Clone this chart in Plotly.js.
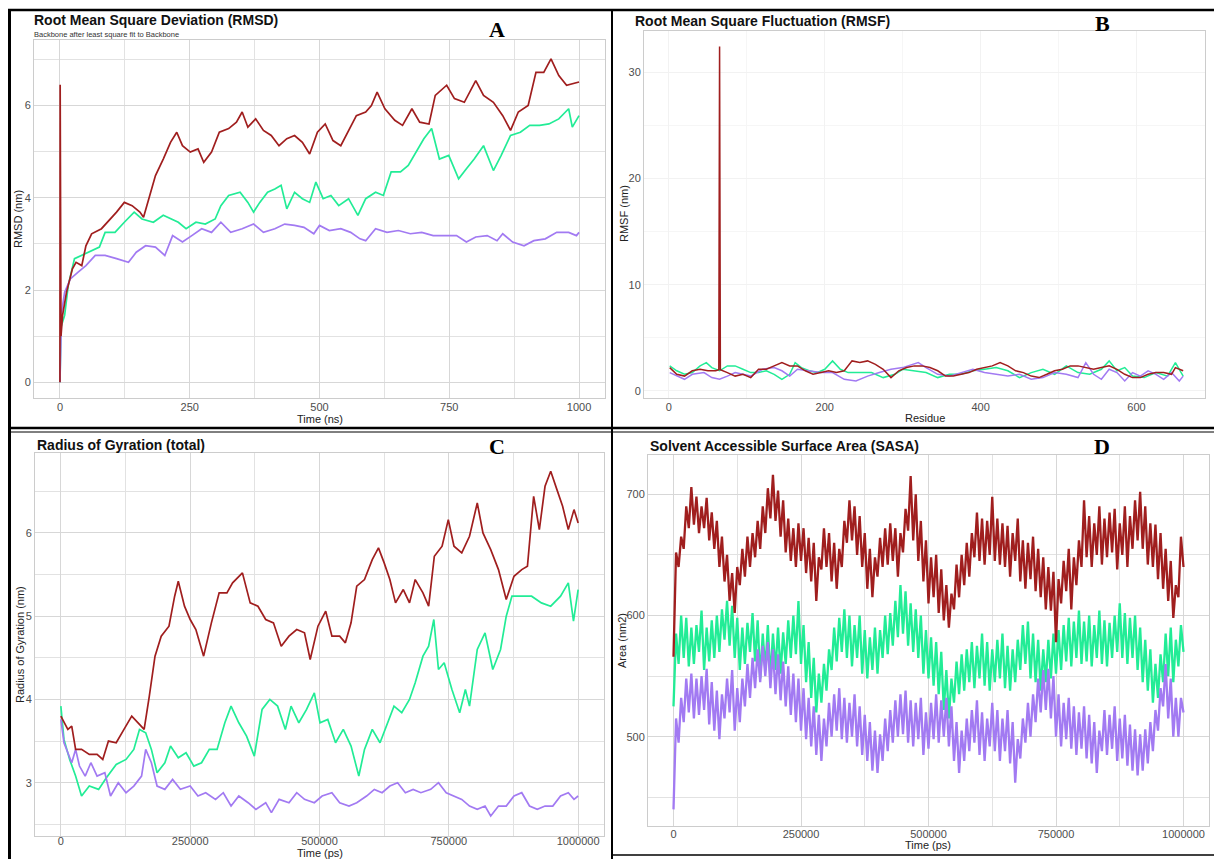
<!DOCTYPE html>
<html>
<head>
<meta charset="utf-8">
<script src="https://cdn.plot.ly/plotly-3.0.1.min.js"></script>
<style>html,body{margin:0;padding:0;background:#fff;}#chart{width:1214px;height:859px;}</style>
</head>
<body>
<div id="chart"></div>
<script>
// ---------------- DATA ----------------
// Panel A: RMSD (nm) vs time (ns)
const rmsdRedT = [0,0.4,2,5,12.6,24,31,42,50,61,80,98,109,124,139,154,161,173,184,199,213,225,236,251,266,277,292,307,325,340,351,362,377,392,407,422,437,452,467,481,496,511,526,541,556,571,589,600,611,626,645,660,678,693,711,723,745,760,779,801,816,835,853,868,883,902,917,932,946,961,976,1000];
const rmsdRed = [0,6.45,1.0,1.45,1.95,2.46,2.6,2.53,2.96,3.22,3.33,3.54,3.69,3.9,3.83,3.69,3.58,4.05,4.48,4.84,5.2,5.42,5.13,4.99,5.06,4.77,4.99,5.42,5.5,5.64,5.86,5.53,5.71,5.46,5.35,5.13,5.28,5.35,5.2,4.95,5.42,5.6,5.24,5.13,5.46,5.78,5.86,6.0,6.29,5.93,5.68,5.57,5.93,5.64,5.6,6.22,6.44,6.15,6.07,6.54,6.22,6.07,5.78,5.46,5.86,6.0,6.72,6.72,7.01,6.65,6.44,6.51];
const rmsdGreenT = [0,2,9,16,28,42,57,76,87,106,124,143,158,180,199,213,228,243,262,280,299,310,325,347,362,373,385,400,414,426,437,452,467,481,493,507,522,537,556,574,589,608,623,638,656,671,686,701,716,731,749,768,783,798,816,835,850,868,887,905,924,942,961,980,987,1000];
const rmsdGreen = [0,1.2,1.45,2.1,2.68,2.75,2.82,2.93,3.25,3.25,3.47,3.69,3.54,3.47,3.62,3.54,3.47,3.33,3.47,3.43,3.54,3.83,4.05,4.12,3.9,3.69,3.9,4.12,4.19,4.27,3.76,4.12,3.98,3.9,4.34,3.98,4.05,3.83,3.98,3.62,3.98,4.12,4.05,4.56,4.56,4.7,4.99,5.28,5.5,4.84,4.92,4.41,4.63,4.84,5.13,4.59,4.92,5.35,5.42,5.57,5.57,5.6,5.71,5.93,5.53,5.78];
const rmsdPurpleT = [0,3,9,20,35,50,68,87,109,132,147,165,184,202,217,236,254,273,292,310,329,351,373,392,414,433,452,470,489,500,519,541,560,578,589,608,630,652,675,697,719,742,764,783,801,823,842,853,872,894,913,935,957,980,995,1000];
const rmsdPurple = [0,1.5,1.95,2.24,2.39,2.53,2.75,2.75,2.68,2.6,2.82,2.96,2.93,2.75,3.18,3.04,3.18,3.33,3.25,3.47,3.25,3.33,3.43,3.25,3.33,3.43,3.4,3.36,3.22,3.4,3.29,3.33,3.25,3.11,3.07,3.33,3.25,3.29,3.22,3.25,3.18,3.18,3.18,3.04,3.15,3.18,3.07,3.22,3.04,2.96,3.07,3.11,3.25,3.25,3.18,3.25];

// Panel B: RMSF (nm) vs residue
const rmsfRedRes = [1,10,20,30,40,50,60,64,65,66,75,85,95,105,115,125,135,145,155,165,175,185,195,205,215,225,235,245,255,265,275,285,295,305,315,325,335,345,355,365,375,385,395,405,415,425,435,445,455,465,475,485,495,505,515,525,535,545,555,565,575,585,595,605,615,625,635,645,650,660];
const rmsfRed = [2.2,1.57,1.4,1.9,2.04,1.9,1.9,2.0,32.4,2.0,1.73,1.4,1.57,1.26,2.04,2.04,2.36,2.67,2.36,2.36,1.9,1.57,1.73,1.9,1.73,1.9,2.83,2.67,2.83,2.51,2.04,1.26,1.9,2.2,2.36,2.36,2.2,1.9,1.4,1.4,1.57,1.73,2.04,2.2,2.36,2.67,2.36,1.9,1.73,1.4,1.26,1.57,1.9,2.04,2.36,2.36,2.2,2.04,2.2,2.36,2.04,1.57,1.26,1.26,1.57,1.73,1.73,1.57,2.2,1.9];
const rmsfGreenRes = [1,10,20,30,40,48,55,65,75,85,95,105,115,125,135,145,155,162,170,180,190,200,210,220,230,245,260,275,290,300,315,330,345,360,375,390,405,420,435,450,465,480,495,510,525,540,555,565,575,585,595,610,625,640,650,655,660];
const rmsfGreen = [2.36,1.9,1.57,1.73,2.36,2.67,2.2,1.9,2.36,2.36,2.04,1.73,1.73,1.9,1.57,1.1,1.57,2.67,2.2,1.9,1.73,2.04,2.83,2.04,1.73,1.73,1.73,1.26,1.57,2.04,1.9,1.73,1.26,1.57,1.57,1.9,2.04,2.2,1.9,1.26,1.73,2.04,1.57,2.36,1.73,1.57,2.04,2.83,1.9,2.2,1.4,1.26,1.73,1.4,2.67,2.04,1.4];
const rmsfPurpleRes = [1,10,20,30,45,55,65,75,85,95,105,120,135,145,155,165,180,195,210,225,240,255,270,285,300,315,320,330,345,360,375,390,405,420,435,450,465,480,495,510,525,535,545,555,565,575,585,595,605,615,625,635,645,655,660];
const rmsfPurple = [1.73,1.4,1.1,1.57,1.73,1.26,1.1,1.4,1.73,1.57,1.4,2.04,2.2,1.9,1.4,2.04,1.9,1.73,1.73,1.1,0.94,1.4,1.73,2.04,2.2,2.51,2.67,2.2,1.57,1.4,1.73,2.04,1.73,1.57,1.4,1.57,1.1,1.26,1.73,1.57,1.26,2.67,1.57,1.1,2.04,1.73,0.94,1.73,1.4,1.9,1.57,1.1,1.73,0.94,1.4];

// Panel C: Radius of gyration (nm) vs time (ps)
const rgRedT = [0,6000,13500,21000,28500,40000,55000,70000,81000,92000,107000,122000,137000,152000,161000,171000,182000,194000,209000,220000,227000,239000,250000,261000,276000,291000,306000,321000,332000,351000,366000,381000,396000,411000,426000,441000,456000,471000,482000,497000,512000,524000,539000,550000,561000,572000,587000,602000,614000,625000,636000,647000,662000,674000,685000,700000,711000,722000,737000,749000,760000,775000,790000,805000,816000,831000,846000,861000,876000,891000,902000,914000,925000,936000,947000,959000,970000,981000,992000,1000000];
const rgRed = [3.8,3.72,3.64,3.68,3.4,3.4,3.34,3.34,3.28,3.5,3.48,3.64,3.8,3.7,3.64,4.04,4.52,4.76,4.88,5.24,5.42,5.12,4.96,4.84,4.52,4.92,5.28,5.28,5.4,5.52,5.16,5.12,4.96,4.92,4.64,4.76,4.84,4.8,4.48,4.88,5.06,4.76,4.76,4.68,4.92,5.36,5.44,5.68,5.82,5.64,5.44,5.16,5.32,5.16,5.44,5.28,5.12,5.72,5.84,6.16,5.84,5.76,5.96,6.36,6.0,5.8,5.56,5.2,5.48,5.56,5.6,6.44,6.04,6.56,6.74,6.52,6.32,6.04,6.28,6.12];
const rgGreenT = [0,6000,17000,28500,40000,55000,73000,88000,107000,126000,141000,152000,164000,175000,186000,201000,212000,227000,242000,257000,272000,287000,302000,317000,329000,344000,359000,374000,389000,404000,419000,434000,445000,460000,475000,490000,501000,516000,531000,546000,561000,576000,587000,602000,617000,632000,644000,659000,674000,685000,700000,711000,721000,730000,741000,756000,771000,782000,790000,805000,820000,835000,850000,861000,872000,891000,910000,929000,947000,966000,981000,991000,1000000];
const rgGreen = [3.92,3.52,3.28,3.08,2.84,2.96,2.92,3.06,3.22,3.28,3.4,3.64,3.6,3.4,3.12,3.24,3.44,3.3,3.36,3.2,3.24,3.4,3.4,3.72,3.92,3.72,3.56,3.32,3.88,4.0,3.92,3.64,3.92,3.72,3.88,4.08,3.72,3.76,3.48,3.64,3.44,3.08,3.4,3.64,3.48,3.72,3.92,3.84,4.0,4.2,4.52,4.64,4.96,4.36,4.44,4.12,3.84,4.12,3.92,4.6,4.8,4.36,4.6,5.0,5.24,5.24,5.24,5.16,5.12,5.24,5.4,4.94,5.32];
const rgPurpleT = [0,6000,13500,21000,28500,36000,47000,58000,70000,85000,96000,111000,126000,141000,156000,164000,175000,186000,201000,216000,231000,250000,265000,280000,299000,314000,329000,344000,362000,377000,396000,407000,422000,441000,456000,471000,490000,505000,524000,539000,557000,572000,591000,606000,621000,636000,651000,666000,681000,696000,715000,730000,745000,760000,775000,790000,805000,820000,831000,846000,861000,876000,891000,906000,921000,936000,951000,966000,981000,992000,1000000];
const rgPurple = [3.76,3.48,3.36,3.24,3.4,3.2,3.08,3.24,3.08,3.12,2.84,3.0,2.88,2.96,3.08,3.4,3.24,2.96,2.92,3.04,2.92,2.96,2.84,2.88,2.8,2.88,2.72,2.84,2.76,2.68,2.76,2.64,2.8,2.76,2.88,2.8,2.76,2.84,2.88,2.76,2.72,2.76,2.84,2.92,2.88,2.96,3.0,2.88,2.92,2.88,2.92,3.0,2.88,2.84,2.8,2.72,2.68,2.72,2.6,2.72,2.72,2.84,2.88,2.72,2.68,2.72,2.72,2.84,2.88,2.8,2.84];

// Panel D: SASA (nm2), sampled every 5000 ps from 0 to 1000000 ps
const sasaStepPs = 5000;
const sasaRed = [566,652,640,665,655,690,672,706,675,698,668,690,672,697,662,685,655,678,640,665,628,650,612,635,602,640,625,655,632,665,640,668,648,678,655,690,668,705,680,716,678,703,665,695,652,680,645,672,640,676,645,672,635,664,628,660,612,648,638,672,640,668,628,660,622,655,640,678,660,695,662,690,650,682,640,668,622,655,615,648,632,664,640,672,642,676,645,672,632,668,652,688,670,715,662,700,645,678,628,662,610,648,615,650,602,638,596,625,590,618,605,642,615,650,625,660,632,668,648,685,645,680,642,678,650,698,645,680,642,676,640,674,632,668,645,680,628,662,622,660,630,665,620,655,615,648,605,640,604,636,578,630,610,645,620,655,605,648,625,662,640,695,648,682,640,676,650,690,642,680,648,685,652,688,638,676,650,690,640,682,655,695,662,702,655,690,642,676,640,675,630,668,622,655,612,645,598,625,615,665,640];
const sasaGreen = [525,585,560,600,565,598,558,590,560,592,570,604,555,590,562,596,565,600,570,605,580,612,575,608,565,598,555,590,560,594,570,602,562,596,548,585,555,592,548,585,555,590,552,586,560,596,565,600,568,612,560,592,545,578,532,565,520,552,528,560,538,572,555,590,562,598,570,605,565,600,558,592,565,600,552,588,548,582,555,590,552,588,565,600,568,602,575,612,582,625,585,620,575,610,570,605,565,600,552,588,548,582,542,578,535,570,522,555,515,548,528,562,535,568,538,572,545,578,540,575,548,585,542,578,538,572,545,580,548,585,540,575,538,572,545,580,555,592,560,595,548,585,545,580,538,572,545,580,548,585,552,588,555,592,562,598,558,595,565,604,560,595,562,600,558,592,565,604,560,596,558,594,565,600,570,610,565,602,560,598,565,600,555,590,545,580,538,572,528,560,532,568,545,585,550,590,545,580,558,592,570];
const sasaPurple = [440,515,495,532,512,548,520,552,515,548,518,550,522,556,510,545,505,538,498,535,515,548,520,555,505,540,512,548,525,560,532,565,540,572,545,575,550,578,540,572,535,568,530,562,525,558,518,552,512,548,505,540,498,532,492,525,485,518,480,515,492,528,500,535,505,540,498,532,495,528,500,535,492,525,485,518,480,512,472,505,470,502,480,515,488,522,495,530,500,535,502,538,495,530,492,528,498,532,485,520,490,528,498,535,495,530,500,532,492,525,480,512,470,505,480,515,488,522,495,530,485,520,480,515,492,528,488,522,480,515,488,522,478,512,462,498,482,515,495,528,500,535,512,548,520,555,522,556,515,550,500,535,492,528,498,532,490,525,485,520,490,525,482,518,478,512,470,505,488,522,485,518,490,525,480,515,482,518,476,510,472,506,468,502,472,506,478,512,488,522,505,540,525,560,515,548,500,532,500,532,520];

// Series names / colours
const seriesNames = ['Complex 1','Complex 2','Complex 3'];
const colRed = '#A01E1E', colGreen = '#22EC96', colPurple = '#A27AF2';

// ---------------- LAYOUT HELPERS ----------------
const W = 1214, H = 859;
const px = x => x / W;
const py = y => 1 - y / H;
const dx = (a, b) => [a / W, b / W];
const dy = (t, b) => [1 - b / H, 1 - t / H];

const sasaT = sasaRed.map((_, i) => i * sasaStepPs);

function ln(x, y, color, xa, ya, w, name) {
  return {x: x, y: y, type: 'scatter', mode: 'lines', name: name, xaxis: xa, yaxis: ya,
          line: {color: color, width: w}, showlegend: false, hoverinfo: 'skip'};
}

const traces = [
  ln(rmsdGreenT, rmsdGreen, colGreen, 'x', 'y', 1.7, seriesNames[1]),
  ln(rmsdPurpleT, rmsdPurple, colPurple, 'x', 'y', 1.7, seriesNames[2]),
  ln(rmsdRedT, rmsdRed, colRed, 'x', 'y', 1.7, seriesNames[0]),
  ln(rmsfGreenRes, rmsfGreen, colGreen, 'x2', 'y2', 1.5, seriesNames[1]),
  ln(rmsfPurpleRes, rmsfPurple, colPurple, 'x2', 'y2', 1.5, seriesNames[2]),
  ln(rmsfRedRes, rmsfRed, colRed, 'x2', 'y2', 1.5, seriesNames[0]),
  ln(rgGreenT, rgGreen, colGreen, 'x3', 'y3', 1.7, seriesNames[1]),
  ln(rgPurpleT, rgPurple, colPurple, 'x3', 'y3', 1.7, seriesNames[2]),
  ln(rgRedT, rgRed, colRed, 'x3', 'y3', 1.7, seriesNames[0]),
  ln(sasaT, sasaGreen, colGreen, 'x4', 'y4', 2.3, seriesNames[1]),
  ln(sasaT, sasaPurple, colPurple, 'x4', 'y4', 2.3, seriesNames[2]),
  ln(sasaT, sasaRed, colRed, 'x4', 'y4', 2.3, seriesNames[0])
];

const FONT = 'Liberation Sans, Arial, sans-serif';
const tickFont = {family: FONT, size: 11, color: '#4d4d4d'};
const axTitleFont = {family: FONT, size: 11, color: '#222'};

function axis(domain, range, dtick, minorDtick, grid, minorGrid, extra) {
  return Object.assign({
    domain: domain, range: range, dtick: dtick, tick0: 0, fixedrange: true,
    showline: true, mirror: true, linecolor: '#cccccc', linewidth: 1,
    zeroline: false, showgrid: true, gridcolor: grid, gridwidth: 1,
    ticks: '', tickfont: tickFont, automargin: false,
    minor: {dtick: minorDtick, tick0: 0, showgrid: true, gridcolor: minorGrid, gridwidth: 1, ticks: ''}
  }, extra || {});
}

const G = '#d7d7d7', GM = '#e2e2e2', GB = '#f2f2f2', GBM = '#f6f6f6';

const layout = {
  width: W, height: H, margin: {l: 0, r: 0, t: 0, b: 0},
  paper_bgcolor: '#ffffff', plot_bgcolor: '#ffffff', showlegend: false,
  font: {family: FONT},
  xaxis:  axis(dx(34, 605), [-50, 1050], 250, 125, G, GM, {anchor: 'y', ticklabelstandoff: -1}),
  yaxis:  axis(dy(40, 398), [-0.34, 7.42], 2, 1, G, GM, {anchor: 'x'}),
  xaxis2: axis(dx(644, 1205), [-32, 688], 200, 100, GB, GBM, {anchor: 'y2', ticklabelstandoff: -1}),
  yaxis2: axis(dy(31, 398), [-0.66, 33.86], 10, 5, GB, GBM, {anchor: 'x2'}),
  xaxis3: axis(dx(35, 604), [-50000, 1050000], 250000, 125000, G, GM, {anchor: 'y3', tickformat: 'd', ticklabelstandoff: -5}),
  yaxis3: axis(dy(453, 836), [2.36, 6.96], 1, 0.5, G, GM, {anchor: 'x3'}),
  xaxis4: axis(dx(648, 1209), [-50000, 1050000], 250000, 125000, G, GM, {anchor: 'y4', tickformat: 'd', ticklabelstandoff: -2}),
  yaxis4: axis(dy(455, 826), [426.3, 732.4], 100, 50, G, GM, {anchor: 'x4'}),
  annotations: [],
  shapes: []
};

function note(text, x, y, size, opts) {
  return Object.assign({text: text, xref: 'paper', yref: 'paper', x: px(x), y: py(y),
    xanchor: 'left', yanchor: 'middle', showarrow: false,
    font: {family: FONT, size: size, color: '#111'}}, opts || {});
}
const LET = {family: 'Liberation Serif, Times New Roman, serif', size: 22, color: '#000'};
const AXT = {xanchor: 'center', font: axTitleFont};
const AXTV = {xanchor: 'center', textangle: -90, font: axTitleFont};
layout.annotations.push(
  note('<b>Root Mean Square Deviation (RMSD)</b>', 32, 20, 14),
  note('Backbone after least square fit to Backbone', 32, 34, 7.5, {font: {family: FONT, size: 7.5, color: '#333'}}),
  note('<b>Root Mean Square Fluctuation (RMSF)</b>', 633, 21, 14),
  note('<b>Radius of Gyration (total)</b>', 35, 445, 14),
  note('<b>Solvent Accessible Surface Area (SASA)</b>', 648, 446, 14),
  note('<b>A</b>', 497, 29, 22, {xanchor: 'center', font: LET}),
  note('<b>B</b>', 1102, 24, 22, {xanchor: 'center', font: LET}),
  note('<b>C</b>', 497, 447, 22, {xanchor: 'center', font: LET}),
  note('<b>D</b>', 1102, 447, 22, {xanchor: 'center', font: LET}),
  // axis titles
  note('Time (ns)', 320, 419, 11, AXT),
  note('RMSD (nm)', 18, 219, 11, AXTV),
  note('Residue', 925, 418, 11, AXT),
  note('RMSF (nm)', 624, 214, 11, AXTV),
  note('Time (ps)', 320, 852.5, 11, AXT),
  note('Radius of Gyration (nm)', 20, 645, 11, AXTV),
  note('Time (ps)', 928, 845, 11, AXT),
  note('Area (nm2)', 622, 641, 11, AXTV)
);

function seg(x0, y0, x1, y1, w) {
  return {type: 'line', xref: 'paper', yref: 'paper', x0: px(x0), y0: py(y0), x1: px(x1), y1: py(y1),
          line: {color: '#000', width: w}, layer: 'above'};
}
layout.shapes.push(
  seg(8, 10, 1214, 10, 2.5),
  seg(9.5, 9, 9.5, 859, 3),
  seg(612, 9, 612, 859, 2),
  seg(8, 428, 1214, 428, 2.5),
  seg(8, 432, 1214, 432, 1),
  seg(612, 855, 1214, 855, 1.5)
);

Plotly.newPlot('chart', traces, layout, {staticPlot: true, displayModeBar: false});
</script>
</body>
</html>
